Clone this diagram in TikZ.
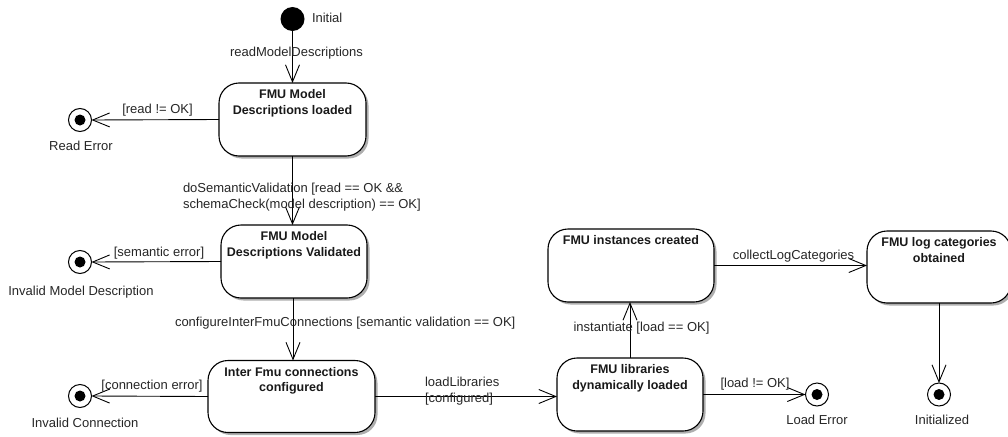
\documentclass[tikz,border=0pt]{standalone}
\usepackage{fontspec}
\setmainfont{Liberation Sans}
\usetikzlibrary{arrows.meta,shadows}
\begin{document}
\begin{tikzpicture}[x=1pt,y=-1pt,
  every node/.style={inner sep=0pt, outer sep=0pt},
  lbl/.style={font=\fontsize{13}{16}\selectfont, text=black!85, align=left},
  ttl/.style={font=\fontsize{12.5}{15.5}\selectfont\bfseries, text=black!90, align=center, anchor=north},
  statebox/.style={draw=black, line width=1.1pt, fill=white, rounded corners=20pt,
    drop shadow={shadow xshift=2.5pt, shadow yshift=-2.5pt, fill=black!45, opacity=0.7}},
  initstate/.style={circle, fill=black, minimum size=24pt},
  finalstate/.style={circle, draw=black, line width=1pt, fill=white, minimum size=23pt,
    path picture={\fill[black] (path picture bounding box.center) circle (5.5pt);}},
  trans/.style={draw=black, line width=0.9pt, -{Straight Barb[length=17pt, width=14pt, line width=0.9pt]}}
]
\useasboundingbox (0,0) rectangle (1008,436);

% initial pseudo state
\node[initstate] (init) at (292.5,19) {};
\node[lbl, anchor=west] (initl) at (312,18) {Initial};

% states
\node[statebox, minimum width=147pt, minimum height=73pt] (s1) at (292.5,119.5) {};
\node[ttl] (s1t) at ([yshift=-6.5pt]s1.north) {FMU Model\\Descriptions loaded};

\node[statebox, minimum width=146pt, minimum height=73pt] (s2) at (294,261.5) {};
\node[ttl] (s2t) at ([yshift=-6.5pt]s2.north) {FMU Model\\Descriptions Validated};

\node[statebox, minimum width=167pt, minimum height=72pt] (s3) at (291.5,396.5) {};
\node[ttl] (s3t) at ([yshift=-6.5pt]s3.north) {Inter Fmu connections\\configured};

\node[statebox, minimum width=146pt, minimum height=73pt] (s4) at (630,394.5) {};
\node[ttl] (s4t) at ([yshift=-6.5pt]s4.north) {FMU libraries\\dynamically loaded};

\node[statebox, minimum width=166pt, minimum height=73pt] (s5) at (631,265.5) {};
\node[ttl] (s5t) at ([yshift=-6.5pt]s5.north) {FMU instances created};

\node[statebox, minimum width=144pt, minimum height=72pt] (s6) at (939,267) {};
\node[ttl] (s6t) at ([yshift=-6.5pt]s6.north) {FMU log categories\\obtained};

% final states
\node[finalstate] (f1) at (80,120) {};
\node[lbl, anchor=center] (f1l) at (81,146) {Read Error};
\node[finalstate] (f2) at (80,262) {};
\node[lbl, anchor=center] (f2l) at (81,292) {Invalid Model Description};
\node[finalstate] (f3) at (80,396) {};
\node[lbl, anchor=center] (f3l) at (85,423) {Invalid Connection};
\node[finalstate] (f4) at (817,394.5) {};
\node[lbl, anchor=center] (f4l) at (817,420) {Load Error};
\node[finalstate] (f5) at (939,394.5) {};
\node[lbl, anchor=center] (f5l) at (942,420) {Initialized};

% transitions
\draw[trans] (init.south) -- (s1.north);
\draw[trans] (s1.west) -- (f1.east);
\draw[trans] (s1.south) -- (s1.south |- s2.north);
\draw[trans] (s2.west) -- (f2.east);
\draw[trans] ([xshift=-1pt]s2.south) -- ([xshift=-1pt]s2.south |- s3.north);
\draw[trans] (s3.west) -- (f3.east);
\draw[trans] (s3.east) -- (s3.east -| s4.west);
\draw[trans] (s4.north) -- (s4.north |- s5.south);
\draw[trans] (s4.east) -- (f4.west);
\draw[trans] (s5.east) -- (s5.east -| s6.west);
\draw[trans] (s6.south) -- (f5.north);

% transition labels
\node[lbl, anchor=center] (t1) at (296.5,53) {readModelDescriptions};
\node[lbl, anchor=center] (t2) at (157.5,110) {[read != OK]};
\node[lbl, anchor=north west] (t3) at (183,183) {doSemanticValidation [read == OK \&\&\\schemaCheck(model description) == OK]};
\node[lbl, anchor=center] (t4) at (159,253) {[semantic error]};
\node[lbl, anchor=west] (t5) at (175,323) {configureInterFmuConnections [semantic validation == OK]};
\node[lbl, anchor=center] (t6) at (152,386) {[connection error]};
\node[lbl, anchor=north west] (t7) at (425,377) {loadLibraries\\{}[configured]};
\node[lbl, anchor=center] (t8) at (641.5,328) {instantiate [load == OK]};
\node[lbl, anchor=center] (t9) at (793.5,256) {collectLogCategories};
\node[lbl, anchor=center] (t10) at (755,384) {[load != OK]};
\end{tikzpicture}
\end{document}
